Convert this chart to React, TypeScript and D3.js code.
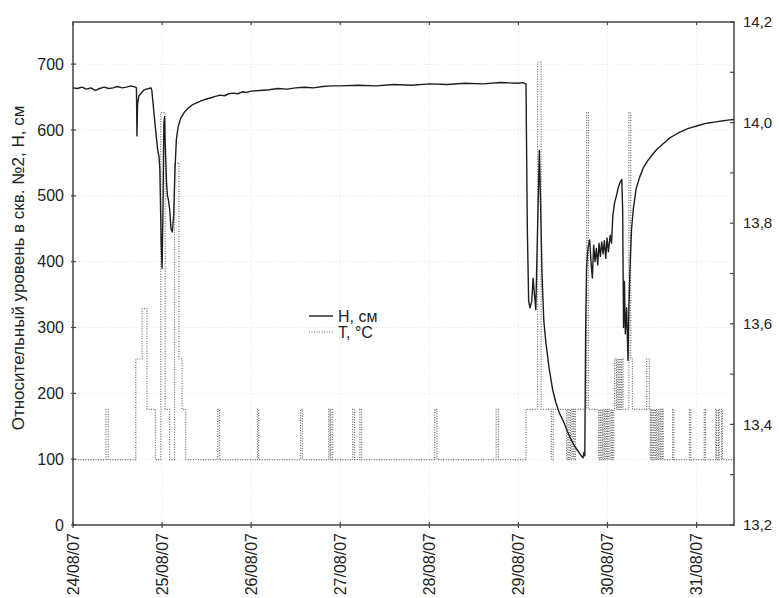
import React from 'react';
import * as d3 from 'd3';

// day offsets from 24/08/07 00:00
const dateLabels = ['24/08/07', '25/08/07', '26/08/07', '27/08/07', '28/08/07', '29/08/07', '30/08/07', '31/08/07'];
const levelTicks = [0, 100, 200, 300, 400, 500, 600, 700];
const tempTicks = [13.2, 13.3, 13.4, 13.5, 13.6, 13.7, 13.8, 13.9, 14.0, 14.1, 14.2];

// H, cm (water level)
const hDays = [
  0, 0.05, 0.1, 0.15, 0.2, 0.25, 0.3, 0.35, 0.4, 0.45, 0.5, 0.55, 0.6, 0.65, 0.7, 0.712, 0.718, 0.725, 0.74, 0.76,
  0.79, 0.82, 0.85, 0.875, 0.885, 0.92, 0.95, 0.965, 0.975, 0.99, 1.0, 1.01, 1.02, 1.028, 1.035, 1.05, 1.06, 1.07,
  1.085, 1.1, 1.115, 1.13, 1.145, 1.16, 1.18, 1.21, 1.25, 1.3, 1.35, 1.4, 1.45, 1.5, 1.55, 1.6, 1.65, 1.7, 1.75,
  1.8, 1.85, 1.9, 1.95, 2.0, 2.1, 2.2, 2.3, 2.4, 2.5, 2.6, 2.7, 2.8, 2.9, 3.0, 3.2, 3.4, 3.6, 3.8, 4.0, 4.2, 4.4,
  4.6, 4.8, 5.0, 5.05, 5.085, 5.1, 5.115, 5.13, 5.15, 5.165, 5.18, 5.195, 5.21, 5.235, 5.25, 5.265, 5.285, 5.31,
  5.345, 5.385, 5.42, 5.46, 5.51, 5.55, 5.59, 5.63, 5.67, 5.7, 5.725, 5.735, 5.745, 5.755, 5.765, 5.78, 5.8, 5.815,
  5.83, 5.845, 5.86, 5.875, 5.89, 5.905, 5.92, 5.935, 5.95, 5.965, 5.98, 5.995, 6.01, 6.03, 6.045, 6.06, 6.08, 6.1,
  6.12, 6.14, 6.16, 6.17, 6.18, 6.19, 6.2, 6.215, 6.23, 6.24, 6.255, 6.27, 6.29, 6.32, 6.36, 6.4, 6.45, 6.5, 6.55,
  6.6, 6.65, 6.7, 6.75, 6.8, 6.85, 6.9, 6.95, 7.0, 7.05, 7.1, 7.15, 7.2, 7.25, 7.3, 7.35, 7.42,
];
const hValues = [
  664, 663, 665, 662, 664, 660, 663, 665, 663, 664, 666, 664, 665, 667, 665, 664, 591, 640, 652, 655,
  660, 662, 663, 664, 660, 610, 570, 560, 540, 430, 390, 480, 610, 620, 580, 520, 500, 495,
  480, 450, 445, 470, 540, 585, 605, 618, 627, 634, 639, 642, 645, 647, 649, 651, 653, 652, 655,
  656, 655, 658, 657, 659, 660, 661, 663, 662, 664, 665, 664, 666, 667, 667, 668, 667, 669, 668, 670, 669, 671,
  670, 672, 671, 672, 670, 450, 340, 330, 340, 375, 350, 327, 420, 569, 480, 380, 310, 275,
  238, 205, 186, 170, 156, 142, 130, 120, 112, 106, 102, 110, 105, 300, 390, 420, 433, 400,
  375, 425, 400, 420, 395, 428, 408, 430, 412, 432, 405, 436, 415, 440, 428, 470, 490, 500,
  512, 520, 525, 480, 300, 370, 290, 330, 250, 330, 400, 450, 480, 510, 528, 542, 553, 562, 570,
  576, 582, 588, 592, 596, 599, 602, 604, 606, 608, 610, 611, 612, 613, 614, 615, 616,
];

// T, °C (step readings)
const tDays = [
  0, 0.37, 0.395, 0.705, 0.775, 0.83, 0.925, 0.985, 1.035, 1.085, 1.14, 1.19, 1.225, 1.265, 1.625, 1.645,
  2.07, 2.085, 2.555, 2.575, 2.87, 2.885, 2.895, 2.915, 3.14, 3.16, 3.22, 3.24, 4.06, 4.085, 4.75, 4.775,
  5.085, 5.215, 5.255, 5.37, 5.39, 5.54, 5.555, 5.57, 5.585, 5.6, 5.615, 5.625, 5.64, 5.765, 5.785,
  5.9, 5.915, 5.925, 5.94, 5.95, 5.965, 5.975, 5.99, 6.0, 6.015, 6.03, 6.045, 6.055, 6.07,
  6.08, 6.1, 6.11, 6.125, 6.135, 6.15, 6.16, 6.175, 6.24, 6.26, 6.28, 6.44, 6.47,
  6.48, 6.49, 6.5, 6.515, 6.525, 6.54, 6.55, 6.565, 6.575, 6.59, 6.6, 6.615, 6.625,
  6.73, 6.745, 6.92, 6.935, 7.085, 7.1, 7.215, 7.225, 7.245, 7.255, 7.28, 7.29, 7.36, 7.42,
];
const tValues = [
  13.33, 13.43, 13.33, 13.53, 13.63, 13.43, 13.33, 14.02, 13.43, 13.33, 13.92, 13.53, 13.43, 13.33, 13.43, 13.33,
  13.43, 13.33, 13.43, 13.33, 13.43, 13.33, 13.43, 13.33, 13.43, 13.33, 13.43, 13.33, 13.43, 13.33, 13.43, 13.33,
  13.43, 14.12, 13.43, 13.33, 13.43, 13.33, 13.43, 13.33, 13.43, 13.33, 13.43, 13.33, 13.43, 14.02, 13.43,
  13.33, 13.43, 13.33, 13.43, 13.33, 13.43, 13.33, 13.43, 13.33, 13.43, 13.33, 13.43, 13.33, 13.43,
  13.53, 13.43, 13.53, 13.43, 13.53, 13.43, 13.53, 13.43, 14.02, 13.53, 13.43, 13.53, 13.43,
  13.33, 13.43, 13.33, 13.43, 13.33, 13.43, 13.33, 13.43, 13.33, 13.43, 13.33, 13.43, 13.33,
  13.43, 13.33, 13.43, 13.33, 13.43, 13.33, 13.43, 13.33, 13.43, 13.33, 13.43, 13.33, 13.33, 13.33,
];

const W = 779;
const H = 598;
const m = { left: 73, top: 22, right: 734, bottom: 525 };
const font = '"Liberation Sans", Arial, sans-serif';
const axisColor = '#444';
const textColor = '#222';

const App: React.FC = () => {
  const x = d3.scaleLinear().domain([0, 7.42]).range([m.left, m.right]);
  const yL = d3.scaleLinear().domain([0, 764]).range([m.bottom, m.top]);
  const yR = d3.scaleLinear().domain([13.2, 14.2]).range([m.bottom, m.top]);

  const hLine = d3
    .line<number>()
    .x((_d, i) => x(hDays[i]))
    .y((d) => yL(d));
  const tLine = d3
    .line<number>()
    .x((_d, i) => x(tDays[i]))
    .y((d) => yR(d))
    .curve(d3.curveStepAfter);

  return (
    <svg width={W} height={H} style={{ position: 'absolute', left: 0, top: 0, background: '#fff' }} fontFamily={font}>
      {/* grid */}
      <g stroke="#e6e6e6" strokeWidth={1} strokeDasharray="1,2">
        {dateLabels.map((_l, i) => (
          <line key={`gx${i}`} x1={x(i)} x2={x(i)} y1={m.top} y2={m.bottom} />
        ))}
        {levelTicks.map((v) => (
          <line key={`gy${v}`} x1={m.left} x2={m.right} y1={yL(v)} y2={yL(v)} />
        ))}
      </g>

      {/* series */}
      <path d={tLine(tValues) ?? ''} fill="none" stroke="#6a6a6a" strokeWidth={1.2} strokeDasharray="1,1.5" />
      <path d={hLine(hValues) ?? ''} fill="none" stroke="#1e1e1e" strokeWidth={1.4} strokeLinejoin="round" />

      {/* frame */}
      <rect x={m.left} y={m.top} width={m.right - m.left} height={m.bottom - m.top} fill="none" stroke={axisColor} strokeWidth={1.5} />

      {/* bottom / top ticks */}
      {dateLabels.map((l, i) => (
        <g key={l}>
          <line x1={x(i)} x2={x(i)} y1={m.bottom - 3} y2={m.bottom + 3} stroke={axisColor} strokeWidth={1.2} />
          <line x1={x(i)} x2={x(i)} y1={m.top} y2={m.top + 3} stroke={axisColor} strokeWidth={1.2} />
          <text
            transform={`translate(${x(i)},${m.bottom + 8}) rotate(-90)`}
            textAnchor="end"
            dy="0.35em"
            fontSize={16}
            fill={textColor}
          >
            {l}
          </text>
        </g>
      ))}

      {/* left axis */}
      {levelTicks.map((v) => (
        <g key={`l${v}`}>
          <line x1={m.left - 2} x2={m.left + 3} y1={yL(v)} y2={yL(v)} stroke={axisColor} strokeWidth={1.2} />
          <text x={m.left - 9} y={yL(v)} dy="0.35em" textAnchor="end" fontSize={16} fill={textColor}>
            {v}
          </text>
        </g>
      ))}

      {/* right axis */}
      {tempTicks.map((v, i) => (
        <g key={`r${i}`}>
          <line x1={m.right - 4} x2={m.right} y1={yR(v)} y2={yR(v)} stroke={axisColor} strokeWidth={1.2} />
          {i % 2 === 0 && (
            <text x={m.right + 9} y={yR(v)} dy="0.35em" fontSize={15} fill={textColor}>
              {v.toFixed(1).replace('.', ',')}
            </text>
          )}
        </g>
      ))}

      {/* axis title */}
      <text transform="translate(18,268) rotate(-90)" textAnchor="middle" dy="0.35em" fontSize={17} fill={textColor}>
        Относительный уровень в скв. №2, Н, см
      </text>

      {/* legend */}
      <g fontSize={16} fill={textColor}>
        <line x1={309} x2={333} y1={316} y2={316} stroke="#1e1e1e" strokeWidth={1.4} />
        <text x={338} y={316} dy="0.35em">
          Н, см
        </text>
        <line x1={309} x2={333} y1={332} y2={332} stroke="#6a6a6a" strokeWidth={1.2} strokeDasharray="1,1.5" />
        <text x={338} y={332} dy="0.35em">
          Т, °С
        </text>
      </g>
    </svg>
  );
};

export default App;
